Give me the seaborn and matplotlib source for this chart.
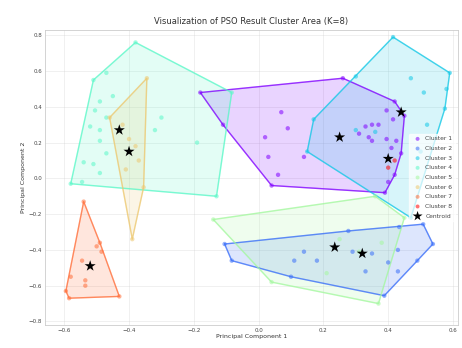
import numpy as np
import matplotlib
matplotlib.use("Agg")
import matplotlib.pyplot as plt
import seaborn as sns

# cluster points (PCA space)
c1_x = [-0.18, 0.26, 0.42, 0.45, 0.44, 0.39, 0.04, -0.11, 0.07, 0.09, 0.02, 0.03, 0.06, 0.14,
        0.33, 0.35, 0.37, 0.34, 0.35, 0.31, 0.395, 0.415, 0.425, 0.41, 0.395, 0.42, 0.40]
c1_y = [0.48, 0.56, 0.43, 0.35, 0.14, -0.08, -0.04, 0.30, 0.37, 0.28, 0.23, 0.12, 0.02, 0.12,
        0.29, 0.30, 0.30, 0.23, 0.21, 0.25, 0.38, 0.33, 0.21, 0.17, 0.22, 0.02, -0.02]
c2_x = [-0.105, -0.083, 0.388, 0.538, 0.508, 0.434, 0.277, 0.10, 0.14, 0.11, 0.18, 0.29,
        0.35, 0.40, 0.43, 0.49, 0.33, 0.43]
c2_y = [-0.367, -0.46, -0.656, -0.367, -0.256, -0.272, -0.294, -0.55, -0.41, -0.46, -0.46, -0.41,
        -0.42, -0.47, -0.40, -0.46, -0.52, -0.52]
c3_x = [0.415, 0.59, 0.575, 0.47, 0.15, 0.17, 0.30, 0.47, 0.51, 0.58, 0.30, 0.36, 0.52, 0.50]
c3_y = [0.79, 0.59, 0.39, -0.22, 0.15, 0.33, 0.57, 0.56, 0.48, 0.50, 0.27, 0.26, 0.30, 0.15]
c4_x = [-0.38, -0.083, -0.13, -0.58, -0.51, -0.47, -0.49, -0.505, -0.52, -0.49, -0.49, -0.47,
        -0.54, -0.51, -0.49, -0.545, -0.45, -0.47, -0.30, -0.32, -0.19]
c4_y = [0.76, 0.48, -0.10, -0.03, 0.55, 0.59, 0.43, 0.38, 0.29, 0.27, 0.21, 0.14,
        0.09, 0.08, 0.03, -0.02, 0.46, 0.34, 0.34, 0.27, 0.20]
c5_x = [-0.14, 0.36, 0.45, 0.37, 0.04, 0.38, 0.25, 0.31, 0.21]
c5_y = [-0.23, -0.10, -0.22, -0.70, -0.58, -0.36, -0.34, -0.41, -0.53]
c6_x = [-0.345, -0.355, -0.39, -0.46, -0.42, -0.40, -0.37, -0.41, -0.38]
c6_y = [0.56, -0.05, -0.34, 0.34, 0.30, 0.22, 0.10, 0.05, 0.18]
c7_x = [-0.54, -0.43, -0.585, -0.595, -0.49, -0.485, -0.545, -0.535, -0.535, -0.58, -0.50]
c7_y = [-0.13, -0.66, -0.67, -0.63, -0.36, -0.41, -0.46, -0.60, -0.57, -0.55, -0.38]
c8_x = [0.42, 0.40]
c8_y = [0.10, 0.06]

cent_x = [0.25, 0.32, 0.44, -0.43, 0.235, -0.40, -0.52, 0.40]
cent_y = [0.23, -0.42, 0.37, 0.27, -0.385, 0.15, -0.49, 0.11]

clusters = [(c1_x, c1_y), (c2_x, c2_y), (c3_x, c3_y), (c4_x, c4_y),
            (c5_x, c5_y), (c6_x, c6_y), (c7_x, c7_y), (c8_x, c8_y)]
labels = [f"Cluster {i + 1}" for i in range(8)]


def convex_hull(pts):
    """Monotone chain hull, returns vertices in order"""
    pts = sorted(set(pts))
    if len(pts) < 3:
        return pts

    def cross(o, a, b):
        return (a[0] - o[0]) * (b[1] - o[1]) - (a[1] - o[1]) * (b[0] - o[0])

    lower, upper = [], []
    for p in pts:
        while len(lower) >= 2 and cross(lower[-2], lower[-1], p) <= 0:
            lower.pop()
        lower.append(p)
    for p in reversed(pts):
        while len(upper) >= 2 and cross(upper[-2], upper[-1], p) <= 0:
            upper.pop()
        upper.append(p)
    return lower[:-1] + upper[:-1]


sns.set_theme(style="whitegrid")
plt.rcParams['font.family'] = ['DejaVu Sans']

fig = plt.figure(figsize=(4.62, 3.48), dpi=100)
ax = fig.add_axes([0.097, 0.066, 0.894, 0.848])

colors = plt.cm.rainbow(np.linspace(0, 1, 8))

for (xs, ys), lab, col in zip(clusters, labels, colors):
    hull = convex_hull(list(zip(xs, ys)))
    if len(hull) >= 3:
        hx = [p[0] for p in hull]
        hy = [p[1] for p in hull]
        ax.fill(hx, hy, color=col, alpha=0.17, zorder=1)
        ax.plot(hx + [hx[0]], hy + [hy[0]], color=col, lw=1.0, alpha=0.75, zorder=2)
    sns.scatterplot(x=xs, y=ys, color=col, s=10, alpha=0.55, edgecolor="none",
                    label=lab, ax=ax, zorder=3)

sns.scatterplot(x=cent_x, y=cent_y, color="black", marker="*", s=70,
                edgecolor="none", label="Centroid", ax=ax, zorder=4)

ax.set_xlim(-0.66, 0.615)
ax.set_ylim(-0.82, 0.83)
ax.set_xticks([-0.6, -0.4, -0.2, 0.0, 0.2, 0.4, 0.6])
ax.set_yticks([-0.8, -0.6, -0.4, -0.2, 0.0, 0.2, 0.4, 0.6, 0.8])
ax.tick_params(labelsize=4, pad=2, length=0, labelcolor="#444444")
ax.grid(True, alpha=0.4, lw=0.5)
for sp in ax.spines.values():
    sp.set_linewidth(0.6)

ax.set_title("Visualization of PSO Result Cluster Area (K=8)", fontsize=6, pad=4, color="#333333")
ax.set_xlabel("Principal Component 1", fontsize=4.5, labelpad=1, color="#333333")
ax.set_ylabel("Principal Component 2", fontsize=4.5, labelpad=2, color="#333333")

leg = ax.legend(loc="center right", fontsize=4.3, frameon=True, framealpha=0.7,
                edgecolor="white", markerscale=0.9, handletextpad=0.3, labelspacing=0.75)
for t in leg.get_texts():
    t.set_color("#444444")

fig.savefig("out.png", dpi=100)
